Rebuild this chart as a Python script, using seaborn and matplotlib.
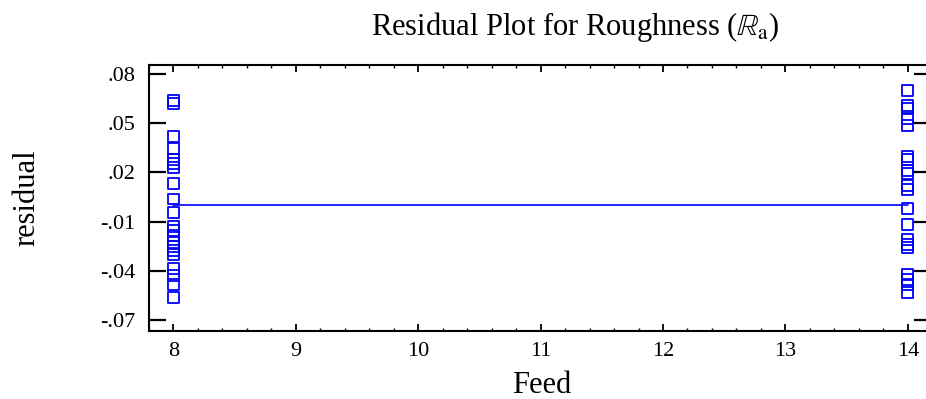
import matplotlib
matplotlib.use("Agg")
import matplotlib.pyplot as plt
import seaborn as sns
import pandas as pd
import numpy as np

# Data
feed_levels = [8, 14]
resid_feed8 = [0.0638, 0.062, 0.0418, 0.0347, 0.028, 0.0255, 0.023, 0.013, 0.0038,
               -0.0045, -0.013, -0.0155, -0.0185, -0.0228, -0.0253, -0.0277, -0.0301,
               -0.0388, -0.043, -0.0486, -0.0562]
resid_feed14 = [0.0698, 0.061, 0.0587, 0.0528, 0.0488, 0.0298, 0.028, 0.0212, 0.0194,
                0.0118, 0.0093, -0.002, -0.0118, -0.021, -0.024, -0.026, -0.0424,
                -0.0455, -0.0486, -0.053]
zero_line_x = [8, 14]
zero_line_y = [0, 0]
xticks = [8, 9, 10, 11, 12, 13, 14]
yticks = [-0.07, -0.04, -0.01, 0.02, 0.05, 0.08]
ytick_labels = ["-.07", "-.04", "-.01", ".02", ".05", ".08"]

df = pd.DataFrame({
    "Feed": [feed_levels[0]] * len(resid_feed8) + [feed_levels[1]] * len(resid_feed14),
    "residual": resid_feed8 + resid_feed14,
})

sns.set_style("ticks")
plt.rcParams["font.family"] = ["Liberation Serif", "DejaVu Serif"]
plt.rcParams["mathtext.fontset"] = "stix"
plt.rcParams["text.color"] = "black"
plt.rcParams["xtick.color"] = "black"
plt.rcParams["ytick.color"] = "black"
plt.rcParams["axes.edgecolor"] = "black"

fig = plt.figure(figsize=(9.26, 3.99), dpi=100)
ax = fig.add_axes([149 / 926, 1 - 331 / 399, (931 - 149) / 926, (331 - 65) / 399])

sns.lineplot(x=zero_line_x, y=zero_line_y, ax=ax, color="#0000ff", linewidth=1.2)
sns.scatterplot(data=df, x="Feed", y="residual", ax=ax, marker="s", s=62,
                facecolor="none", edgecolor="#0000ff", linewidth=1.3, zorder=3)

ax.set_xlim(7.81, 14.19)
ax.set_ylim(-0.0767, 0.0855)
ax.set_xticks(xticks)
ax.set_xticklabels([str(t) for t in xticks])
ax.set_xticks(np.arange(7.8, 14.2, 0.2), minor=True)
ax.set_yticks(yticks)
ax.set_yticklabels(ytick_labels)

for s in ax.spines.values():
    s.set_visible(True)
    s.set_linewidth(1.5)
    s.set_color("black")

ax.tick_params(axis="x", which="major", direction="in", length=5, width=1.3,
               top=True, bottom=True, labelsize=16, pad=8, colors="black")
ax.tick_params(axis="x", which="minor", direction="in", length=2.4, width=1.0,
               top=True, bottom=True, colors="black")
ax.tick_params(axis="y", which="major", direction="in", length=12, width=1.6,
               left=True, right=True, labelsize=16, pad=9.5, colors="black")

ax.set_xlabel("")
ax.set_ylabel("")
fig.text(542 / 926, 1 - 393 / 399, "Feed", ha="center", va="baseline", fontsize=22,
         color="black")
fig.text(27 / 926, 1 - 198 / 399, "residual", ha="center", va="center",
         rotation=90, fontsize=22, color="black")
fig.text(575 / 926, 1 - 35 / 399, r"Residual Plot for Roughness ($\mathbb{R}_\mathrm{a}$)",
         ha="center", va="baseline", fontsize=22, color="black")

fig.savefig("out.png", dpi=100)
